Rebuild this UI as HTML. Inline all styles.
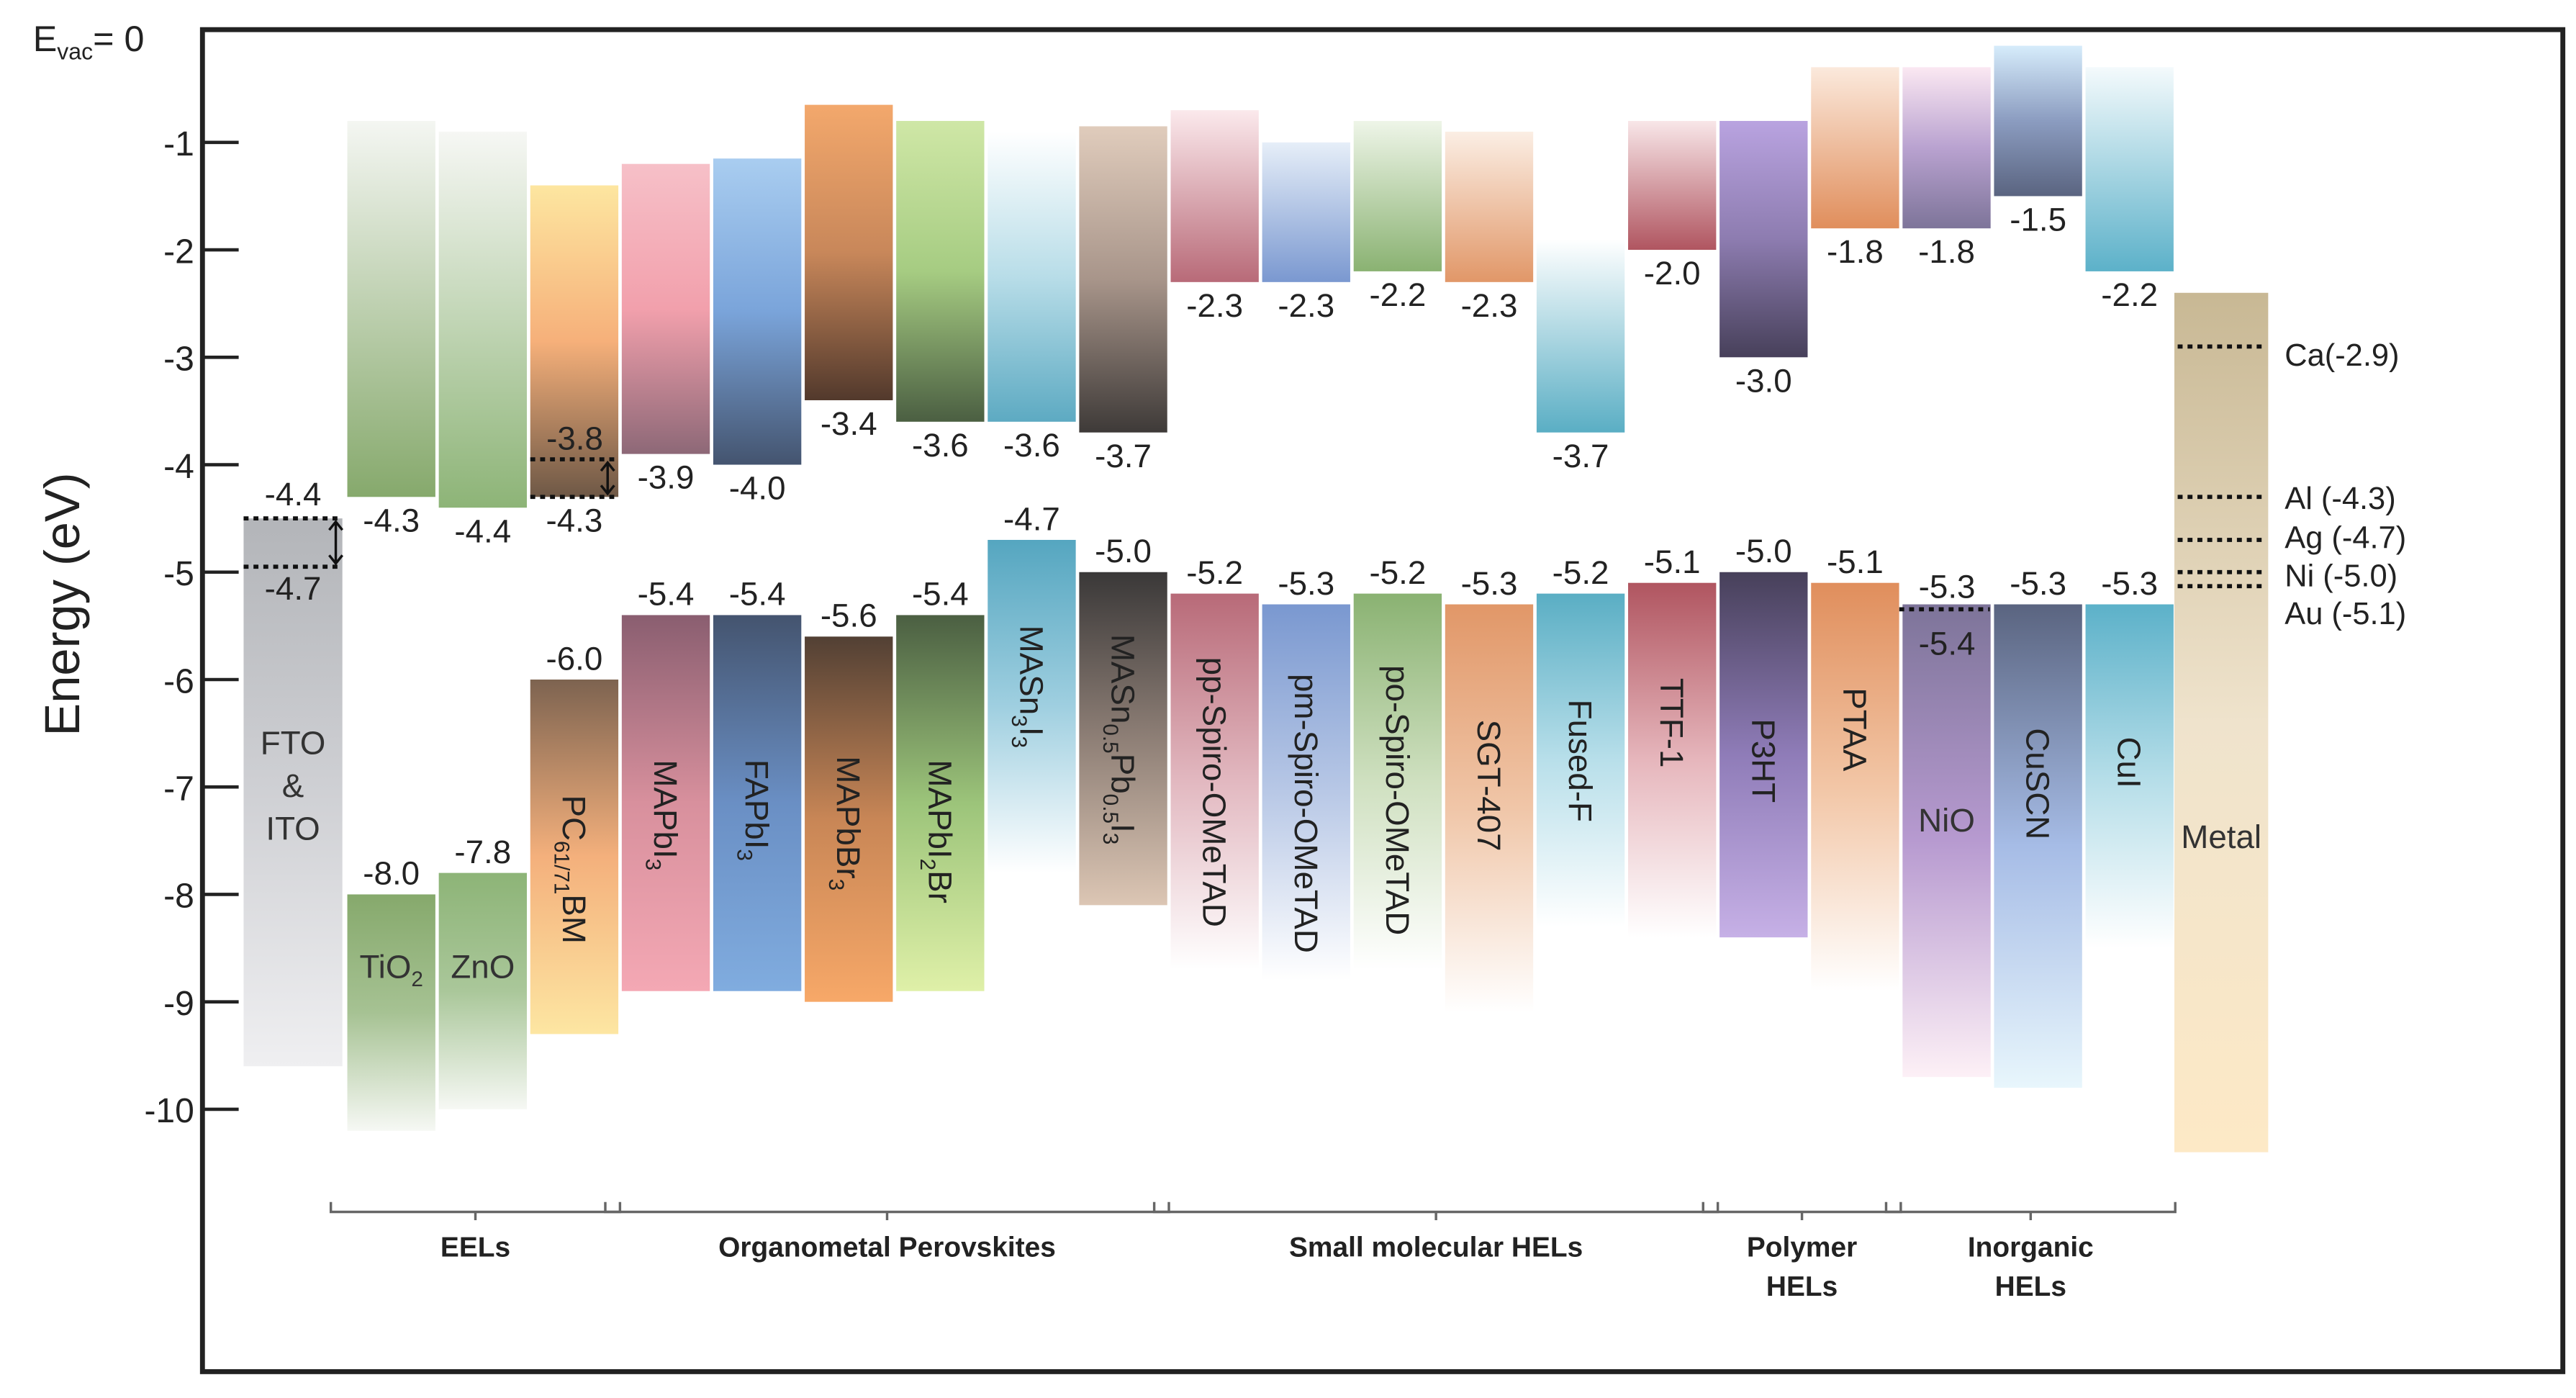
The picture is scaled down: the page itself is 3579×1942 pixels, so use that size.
<!DOCTYPE html>
<html><head><meta charset="utf-8"><style>
html,body{margin:0;padding:0;background:#fff;}
svg{display:block;font-family:"Liberation Sans",Arial,sans-serif;}
</style></head><body>
<svg id="chart" xmlns="http://www.w3.org/2000/svg" width="3579" height="1942" viewBox="0 0 1565 849" preserveAspectRatio="none">
<defs id="defs"></defs>
<rect x="0" y="0" width="1565" height="849" fill="#fff"/>
<rect x="123" y="18" width="1434" height="815" fill="none" stroke="#222" stroke-width="3"/>
<g id="axis"></g>
<g id="bars"></g>
<g id="labels"></g>
<g id="groups"></g>
</svg>
<script>
const names = ["FTO & ITO","TiO2","ZnO","PC61/71BM","MAPbI3","FAPbI3","MAPbBr3","MAPbI2Br","MASn3I3","MASn0.5Pb0.5I3","pp-Spiro-OMeTAD","pm-Spiro-OMeTAD","po-Spiro-OMeTAD","SGT-407","Fused-F","TTF-1","P3HT","PTAA","NiO","CuSCN","CuI","Metal"];
const cbTop =    [null,-0.8,-0.9,-1.4,-1.2,-1.15,-0.65,-0.8,-0.9,-0.85,-0.7,-1.0,-0.8,-0.9,-1.9,-0.8,-0.8,-0.3,-0.3,-0.1,-0.3,null];
const cbBottom = [null,-4.3,-4.4,-4.3,-3.9,-4.0,-3.4,-3.6,-3.6,-3.7,-2.3,-2.3,-2.2,-2.3,-3.7,-2.0,-3.0,-1.8,-1.8,-1.5,-2.2,null];
const vbTop =    [-4.4,-8.0,-7.8,-6.0,-5.4,-5.4,-5.6,-5.4,-4.7,-5.0,-5.2,-5.3,-5.2,-5.3,-5.2,-5.1,-5.0,-5.1,-5.3,-5.3,-5.3,-2.4];
const vbBottom = [-9.6,-10.2,-10.0,-9.3,-8.9,-8.9,-9.0,-8.9,-7.8,-8.1,-8.7,-8.8,-8.7,-9.1,-8.3,-8.4,-8.4,-8.9,-9.7,-9.8,-8.5,-10.4];
const yTicks = [-1,-2,-3,-4,-5,-6,-7,-8,-9,-10];
const metalLevels = [-2.9,-4.3,-4.7,-5.0,-5.1];
const metalNames = ["Ca(-2.9)","Al (-4.3)","Ag (-4.7)","Ni (-5.0)","Au (-5.1)"];
const groupNames = [["EELs"],["Organometal Perovskites"],["Small molecular HELs"],["Polymer","HELs"],["Inorganic","HELs"]];
const groupSpans = [[1,3],[4,9],[10,15],[16,17],[18,20]];

// styling (not data)
const cbCol = [null,["#f4f6f2","#86a96c"],["#f6f7f4","#8db477"],["#fde6a0","#f6b07a","#6e5846"],["#f6c0c8","#f2a0ac","#8d6877"],["#a9cdf0","#7aa4da","#44546f"],["#f3a86c","#c8875a","#52392c"],["#cfe7a6","#a6cc82","#4b5f42"],["#ffffff","#b8dde8","#5daac2"],["#e0ccbc","#a8958a","#3e3a38"],["#fbe9ec","#b86a78"],["#e6eef8","#7a98d0"],["#eef5e8","#8ab272"],["#fbeee4","#e19768"],["#ffffff","#5aaec4"],["#f8e6e8","#b05560"],["#b9a3e0","#8d7cb0","#47405a"],["#fbe9dc","#e08e5c"],["#fbe8f2","#b9a2d0","#7d7499"],["#d6ecfb","#8b9cc0","#5a6480"],["#f4fafc","#5cb1c9"],null];
const vbCol = [["#b3b5b9","#cfd0d4","#efeff1"],["#86a96c","#a6c293","#f6f8f4"],["#8db477","#aac79a","#f6f8f4"],["#7d6350","#f4b07c","#fde6a2"],["#8a5e70","#d8909d","#f4a8b4"],["#44546f","#6a8fc4","#80acdf"],["#524034","#c88656","#f7a868"],["#4b5f42","#9cc47a","#dff0a8"],["#55a6c0","#9fcfe0","#ffffff"],["#3a3838","#8e7f76","#dcc6b4"],["#b86a78","#e2b8c0","#ffffff"],["#7a98d0","#b8c8e6","#ffffff"],["#8ab272","#cfe0c0","#ffffff"],["#e19768","#f0c6a8","#ffffff"],["#5aaec4","#b8dfea","#ffffff"],["#b05560","#e6b6bc","#ffffff"],["#47405a","#8f7cb8","#c6b0e6"],["#e08e5c","#f2c6a6","#ffffff"],["#7d7499","#b79ad0","#fdf0f6"],["#5a6480","#a6bce6","#e8f6fc"],["#5cb1c9","#b4dde8","#ffffff"],["#c8b894","#efe3cc","#fde9c6"]];
const labelCy = [480,587,587,528,495,492,500,505,417,449,481,494,486,477,462,439,462,443,498,476,463,508];
const metalLabelY = [215,302,326,349,372];

const NS="http://www.w3.org/2000/svg";
function el(t,a,p){const e=document.createElementNS(NS,t);for(const k in a)e.setAttribute(k,a[k]);(p||document.getElementById('chart')).appendChild(e);return e;}
function yS(v){return 21.25-65.24*v;}
function xS(i){return i===0?148:(i===21?1321:211+(i-1)*55.58);}
function wS(i){return i===0?60:(i===21?57:53.5);}
const defs=document.getElementById('defs'),gA=document.getElementById('axis'),gB=document.getElementById('bars'),gL=document.getElementById('labels'),gG=document.getElementById('groups');
function grad(id,cols){const g=el('linearGradient',{id:id,x1:0,y1:0,x2:0,y2:1},defs);cols.forEach((c,k)=>{el('stop',{offset:(k/(cols.length-1)),'stop-color':c},g);});}
function txt(p,x,y,s,size,anchor,extra){const t=el('text',Object.assign({x:x,y:y,'font-size':size,'text-anchor':anchor||'middle',fill:'#222'},extra||{}),p);t.textContent=s;return t;}

// axis
yTicks.forEach(v=>{
  const l=el('line',{x1:123,x2:145,y1:yS(v),y2:yS(v),stroke:'#222','stroke-width':2},gA);
  
  
  const t=txt(gA,118,yS(v)+8,String(v),21,'end');
  
  
});
const ev=el('text',{x:20,y:31,'font-size':22,fill:'#222'},gA);


ev.innerHTML='E<tspan font-size="14" dy="5">vac</tspan><tspan dy="-5">= 0</tspan>';
const yt=txt(gA,0,0,'Energy (eV)',30,'middle',{transform:'translate(48,367) rotate(-90)'});



function fmt(v){return v.toFixed(1);}
names.forEach((n,i)=>{
  const x=xS(i),w=wS(i),cx=x+w/2;
  if(cbTop[i]!==null){
    grad('cb'+i,cbCol[i]);
    const r=el('rect',{x:x,y:yS(cbTop[i]),width:w,height:yS(cbBottom[i])-yS(cbTop[i]),fill:'url(#cb'+i+')'},gB);
    
    
    const t=txt(gL,cx,yS(cbBottom[i])+21,fmt(cbBottom[i]),20);
    
    
  }
  let top=vbTop[i];
  if(i===0) top=-4.5;
  grad('vb'+i,vbCol[i]);
  const r=el('rect',{x:x,y:yS(top),width:w,height:yS(vbBottom[i])-yS(top),fill:'url(#vb'+i+')'},gB);
  
  
  if(i!==21 && i!==0 && i!==18){
    const t=txt(gL,cx,yS(vbTop[i])-6,fmt(vbTop[i]),20);
    
    
  }
});
function dotted(x1,x2,y){const l=el('line',{x1:x1,x2:x2,y1:y,y2:y,stroke:'#111','stroke-width':2.5,'stroke-dasharray':'3,3'},gL);}
dotted(148,208,yS(-4.5));dotted(148,208,yS(-4.95));
txt(gL,178,yS(-4.5)-8,'-4.4',20);txt(gL,178,yS(-4.95)+20,'-4.7',20);
el('path',{d:'M204,'+(yS(-4.5)+2)+' V'+(yS(-4.95)-2)+' M200,'+(yS(-4.5)+7)+' l4,-5 l4,5 M200,'+(yS(-4.95)-7)+' l4,5 l4,-5',stroke:'#111','stroke-width':1.5,fill:'none'},gL);
const px=xS(3);
dotted(px,px+53,yS(-3.95));dotted(px,px+53,yS(-4.3));
txt(gL,px+27,yS(-3.95)-6,'-3.8',20);
el('path',{d:'M'+(px+47)+','+(yS(-3.95)+2)+' V'+(yS(-4.3)-2)+' M'+(px+43)+','+(yS(-3.95)+7)+' l4,-5 l4,5 M'+(px+43)+','+(yS(-4.3)-7)+' l4,5 l4,-5',stroke:'#111','stroke-width':1.5,fill:'none'},gL);
const nx=xS(18);
dotted(nx-2,nx+53,yS(-5.3)+3);
txt(gL,nx+27,yS(-5.3)-4,'-5.3',20);txt(gL,nx+27,yS(-5.4)+24,'-5.4',20);
metalLevels.forEach((v,k)=>{
  dotted(1323,1376,yS(v)+(k===4?2:0));
  const t=txt(gL,1388,metalLabelY[k]+7,metalNames[k],19,'start');
  
  
});
const sub={ "TiO2":'TiO<tspan font-size="13" dy="5">2</tspan>',
 "PC61/71BM":'PC<tspan font-size="13" dy="5">61/71</tspan><tspan dy="-5">BM</tspan>',
 "MAPbI3":'MAPbI<tspan font-size="13" dy="5">3</tspan>',"FAPbI3":'FAPbI<tspan font-size="13" dy="5">3</tspan>',
 "MAPbBr3":'MAPbBr<tspan font-size="13" dy="5">3</tspan>',"MAPbI2Br":'MAPbI<tspan font-size="13" dy="5">2</tspan><tspan dy="-5">Br</tspan>',
 "MASn3I3":'MASn<tspan font-size="13" dy="5">3</tspan><tspan dy="-5">I</tspan><tspan font-size="13" dy="5">3</tspan>',
 "MASn0.5Pb0.5I3":'MASn<tspan font-size="13" dy="5">0.5</tspan><tspan dy="-5">Pb</tspan><tspan font-size="13" dy="5">0.5</tspan><tspan dy="-5">I</tspan><tspan font-size="13" dy="5">3</tspan>'};
const horiz=[0,1,2,18,21];
names.forEach((n,i)=>{
  const cx=xS(i)+wS(i)/2,cy=labelCy[i];
  let t;
  if(i===0){
    t=el('text',{x:cx,y:cy,'font-size':20,'text-anchor':'middle',fill:'#333'},gL);
    t.innerHTML='<tspan x="'+cx+'" y="'+(cy-22)+'">FTO</tspan><tspan x="'+cx+'" y="'+(cy+4)+'">&amp;</tspan><tspan x="'+cx+'" y="'+(cy+30)+'">ITO</tspan>';
  } else if(horiz.includes(i)){
    t=el('text',{x:cx,y:cy+7,'font-size':20,'text-anchor':'middle',fill:'#333'},gL);
    t.innerHTML=sub[n]||n;
  } else {
    t=el('text',{x:0,y:0,'font-size':20,'text-anchor':'middle',fill:'#222',transform:'translate('+(cx-7)+','+cy+') rotate(90)'},gL);
    t.innerHTML=sub[n]||n;
  }
  
  
});
groupSpans.forEach((s,k)=>{
  const x1=xS(s[0])-10,x2=xS(s[1])+wS(s[1])+1,y=736,m=(x1+x2)/2;
  const p=el('path',{d:'M'+x1+','+(y-6)+' V'+y+' H'+x2+' V'+(y-6)+' M'+m+','+y+' v5',stroke:'#666','stroke-width':1.5,fill:'none'},gG);
  
  
  groupNames[k].forEach((ln,j)=>{
    const t=txt(gG,m,763+j*24,ln,17,'middle',{'font-weight':'bold'});
    
    
  });
});
</script>
</body></html>
